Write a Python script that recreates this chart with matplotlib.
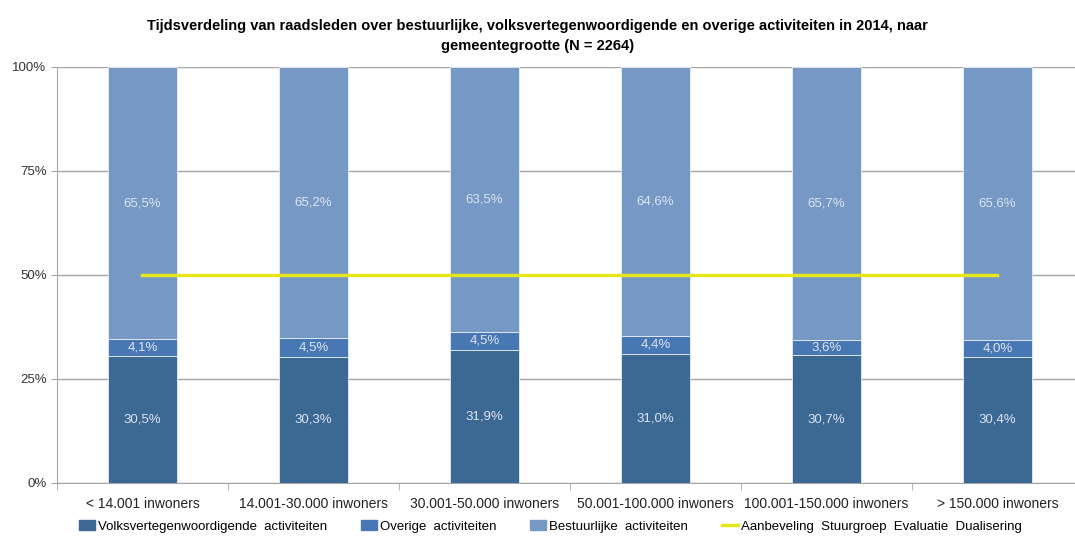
import numpy as np
import matplotlib.pyplot as plt
from matplotlib.lines import Line2D
from matplotlib.patches import Patch

categories = ['< 14.001 inwoners', '14.001-30.000 inwoners', '30.001-50.000 inwoners',
              '50.001-100.000 inwoners', '100.001-150.000 inwoners', '> 150.000 inwoners']
volks = [30.5, 30.3, 31.9, 31.0, 30.7, 30.4]
overig = [4.1, 4.5, 4.5, 4.4, 3.6, 4.0]
bestuur = [65.5, 65.2, 63.5, 64.6, 65.7, 65.6]
advies = [50, 50, 50, 50, 50, 50]

c_volks = '#3C6894'
c_overig = '#4878B4'
c_bestuur = '#7598C4'
c_advies = '#E6E61E'
lbl_col = '#DCE4EF'

plt.rcParams['font.family'] = ['Liberation Sans', 'DejaVu Sans']

fig = plt.figure(figsize=(10.75, 5.37), dpi=100)
ax = fig.add_axes([0.053, 0.1006, 0.9544, 0.7747])

x = np.arange(len(categories))
w = 0.40
ax.bar(x, volks, w, color=c_volks, edgecolor='#E8EEF5', linewidth=0.6, zorder=3)
ax.bar(x, overig, w, bottom=volks, color=c_overig, edgecolor='#E8EEF5', linewidth=0.6, zorder=3)
bottom2 = np.array(volks) + np.array(overig)
ax.bar(x, bestuur, w, bottom=bottom2, color=c_bestuur, edgecolor='#E8EEF5', linewidth=0.6, zorder=3)
ax.plot(x, advies, color=c_advies, linewidth=2.5, zorder=4)

def fmt(v):
    return f'{v:.1f}%'.replace('.', ',')

for i in x:
    ax.text(i, volks[i] / 2, fmt(volks[i]), ha='center', va='center', color=lbl_col, fontsize=9.5, zorder=5)
    ax.text(i, volks[i] + overig[i] / 2, fmt(overig[i]), ha='center', va='center', color=lbl_col, fontsize=9.5, zorder=5)
    ax.text(i, bottom2[i] + (100 - bottom2[i]) / 2, fmt(bestuur[i]), ha='center', va='center',
            color=lbl_col, fontsize=9.5, zorder=5)

ax.set_xlim(-0.5, len(categories) - 0.5)
ax.set_ylim(0, 100)
ax.set_yticks([0, 25, 50, 75, 100])
ax.set_yticklabels(['0%', '25%', '50%', '75%', '100%'], fontsize=9.5, color='#333333')
ax.yaxis.grid(True, color='#A6A6A6', linewidth=1, zorder=0)
ax.set_xticks(x)
ax.set_xticklabels(categories, fontsize=10, color='#222222')
ax.tick_params(axis='x', length=0, pad=10)
ax.set_xticks(np.arange(-0.5, len(categories)), minor=True)
ax.tick_params(axis='x', which='minor', length=5, color='#A6A6A6')
ax.tick_params(axis='y', length=4, color='#A6A6A6')
for s in ['top', 'right']:
    ax.spines[s].set_visible(False)
ax.spines['left'].set_color('#A6A6A6')
ax.spines['bottom'].set_color('#A6A6A6')

fig.text(0.5, 0.965, 'Tijdsverdeling van raadsleden over bestuurlijke, volksvertegenwoordigende en overige activiteiten in 2014, naar\ngemeentegrootte (N = 2264)',
         ha='center', va='top', fontsize=10.5, fontweight='bold', linespacing=1.6)

handles = [Patch(color=c_volks), Patch(color=c_overig), Patch(color=c_bestuur),
           Line2D([0], [0], color=c_advies, linewidth=2.5)]
labels = ['Volksvertegenwoordigende  activiteiten', 'Overige  activiteiten',
          'Bestuurlijke  activiteiten', 'Aanbeveling  Stuurgroep  Evaluatie  Dualisering']
fig.legend(handles, labels, loc='lower center', bbox_to_anchor=(0.512, -0.014), ncol=4, frameon=False,
           fontsize=9.5, handlelength=1.2, handleheight=0.7, columnspacing=2.6, handletextpad=0.2)

fig.savefig('out.png', dpi=100)
